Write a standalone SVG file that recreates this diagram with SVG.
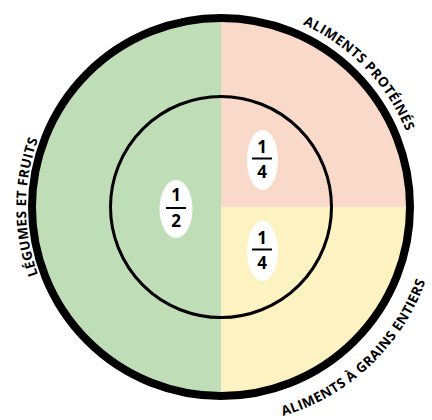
<svg xmlns="http://www.w3.org/2000/svg" xmlns:xlink="http://www.w3.org/1999/xlink" width="432" height="420" viewBox="0 0 432 420">
<style>
.lbl{font-family:"Open Sans","Noto Sans",sans-serif;font-weight:700;font-size:13.5px;letter-spacing:0.4px;fill:#000}
.num{font-family:"Open Sans","Noto Sans",sans-serif;font-weight:700;font-size:17px;fill:#000;text-anchor:middle}
.bar{stroke:#000;stroke-width:2}
.oval{fill:#fff}
</style>
<defs>
<path id="pL" d="M123.5,375.9 A195,195 0 0 1 123.5,38.1"/>
<path id="pTR" d="M172.6,12.9 A200,200 0 0 1 413.3,262.1"/>
<path id="pBR" d="M158.9,415.8 A217,217 0 0 0 432.2,157.0"/>
</defs>
<g id="plate">
<path id="veg" d="M221,18 A189,189 0 0 0 221,396 Z" fill="#bfdeb8"/>
<path id="prot" d="M221,207 L221,18 A189,189 0 0 1 410,207 Z" fill="#f9d9c9"/>
<path id="grain" d="M221,207 L410,207 A189,189 0 0 1 221,396 Z" fill="#fcf2c2"/>
<circle cx="221" cy="207" r="189" fill="none" stroke="#000" stroke-width="8"/>
<circle cx="221" cy="207" r="110.5" fill="none" stroke="#000" stroke-width="3"/>
</g>
<g id="half">
<ellipse class="oval" cx="176" cy="209" rx="16.5" ry="29"/>
<text class="num" x="176" y="201">1</text>
<line class="bar" x1="166" y1="208" x2="186" y2="208"/>
<text class="num" x="176" y="227">2</text>
</g>
<g id="quarterTop">
<ellipse class="oval" cx="262.5" cy="160" rx="15.5" ry="30"/>
<text class="num" x="262" y="153.3">1</text>
<line class="bar" x1="252" y1="158.5" x2="272" y2="158.5"/>
<text class="num" x="262" y="178">4</text>
</g>
<g id="quarterBottom">
<ellipse class="oval" cx="262.5" cy="251" rx="15.5" ry="30"/>
<text class="num" x="262" y="244.3">1</text>
<line class="bar" x1="252" y1="249.5" x2="272" y2="249.5"/>
<text class="num" x="262" y="269">4</text>
</g>
<g id="labels">
<text class="lbl"><textPath xlink:href="#pL" href="#pL" startOffset="50%" text-anchor="middle">LÉGUMES ET FRUITS</textPath></text>
<text class="lbl"><textPath xlink:href="#pTR" href="#pTR" startOffset="50%" text-anchor="middle">ALIMENTS PROTÉINÉS</textPath></text>
<text class="lbl"><textPath xlink:href="#pBR" href="#pBR" startOffset="50%" text-anchor="middle">ALIMENTS À GRAINS ENTIERS</textPath></text>
</g>
</svg>
